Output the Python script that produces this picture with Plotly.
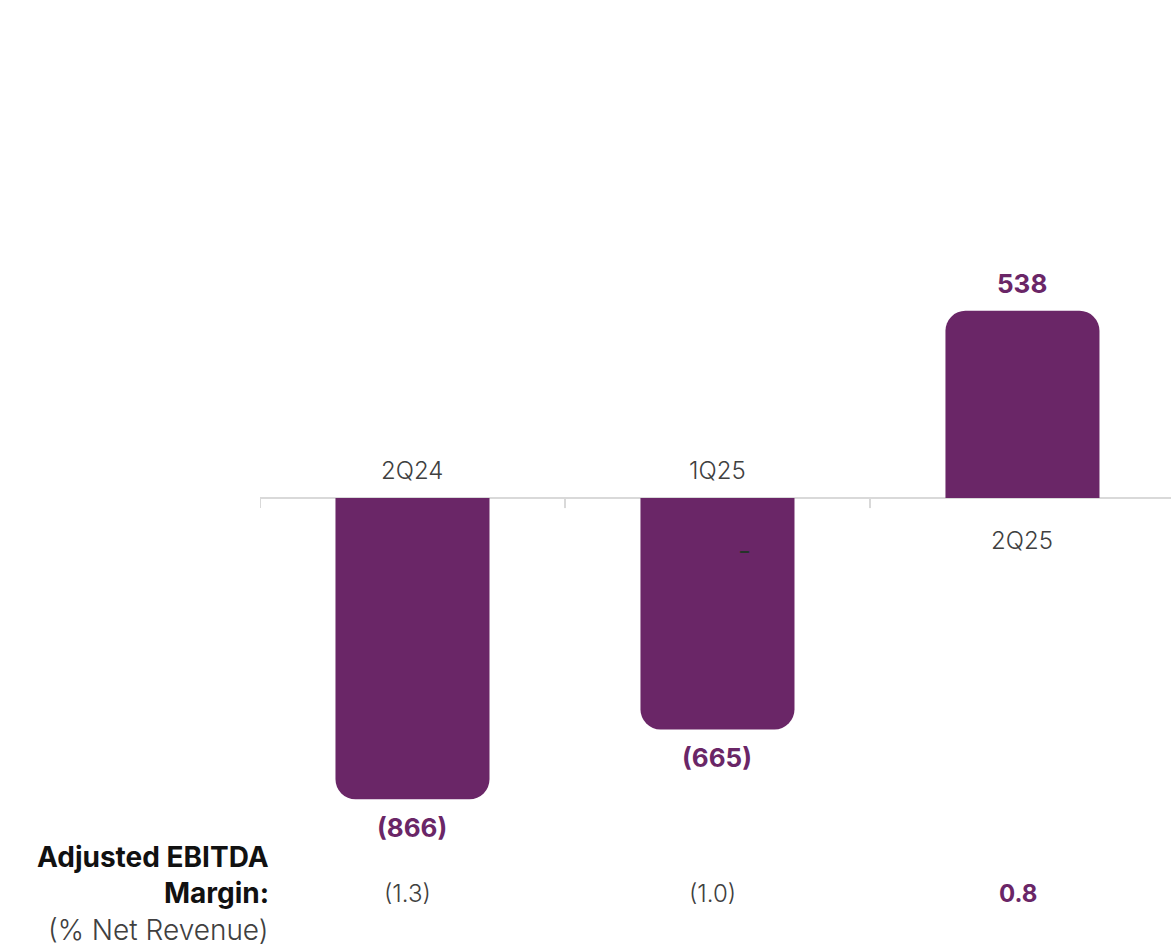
import plotly.graph_objects as go

# Adjusted EBITDA by quarter (R$ millions) and margin over net revenue (%)
quarters = ["2Q24", "1Q25", "2Q25"]
ebitda = [-866, -665, 538]
ebitda_labels = ["(866)", "(665)", "538"]
margin_labels = ["(1.3)", "(1.0)", "0.8"]
margin_bold = [False, False, True]

PURPLE = "#6A2667"
GRAY = "#404040"
AXIS = "#D9D9D9"
FONT = "Inter"

fig = go.Figure()
fig.add_trace(go.Bar(
    x=list(range(len(quarters))),
    y=ebitda,
    width=0.505,
    marker=dict(color=PURPLE, line=dict(width=0)),
    hoverinfo="skip",
))

annotations = []
for i, (q, v, lab, m, mb) in enumerate(zip(quarters, ebitda, ebitda_labels,
                                          margin_labels, margin_bold)):
    sign = 1 if v >= 0 else -1
    # value label beyond the rounded end of the bar
    annotations.append(dict(
        x=i, y=v, xref="x", yref="y", text=f"<b>{lab}</b>", showarrow=False,
        yshift=27 * sign - (1 if sign < 0 else 0),
        font=dict(family=FONT, size=26, color=PURPLE),
    ))
    # quarter label on the opposite side of the baseline
    annotations.append(dict(
        x=i, y=0, xref="x", yref="y", text=q, showarrow=False,
        yshift=-28 * sign - (14 if sign > 0 else 0),
        font=dict(family=FONT, size=24, color=GRAY, weight=300),
    ))
    # margin row
    annotations.append(dict(
        x=i - 0.015, y=893, xref="x", yref="paper", text=f"<b>{m}</b>" if mb else m,
        showarrow=False, yanchor="middle",
        font=dict(family=FONT, size=24, color=PURPLE if mb else GRAY,
                  weight=None if mb else 300),
    ))

# Row title on the left
row_title = [
    ("<b>Adjusted EBITDA</b>", 857, "#111111", None),
    ("<b>Margin:</b>", 893, "#111111", None),
    ("(% Net Revenue)", 930, GRAY, 300),
]
for txt, ypx, col, w in row_title:
    annotations.append(dict(
        x=271, y=ypx, xref="paper", yref="paper", text=txt, showarrow=False,
        xanchor="right", yanchor="middle",
        font=dict(family=FONT, size=28, color=col, weight=w),
    ))

# convert pixel positions of paper-referenced annotations
H, W = 948, 1171
T, B, L, R = 150, 102, 260, 0
for a in annotations:
    if a["yref"] == "paper":
        a["y"] = (H - B - a["y"]) / (H - T - B)
    if a["xref"] == "paper":
        a["x"] = (a["x"] - L) / (W - L - R)

# small dash mark inside the 1Q25 bar
annotations.append(dict(
    x=1.09, y=-150, xref="x", yref="y", text="<b>–</b>", showarrow=False,
    font=dict(family=FONT, size=18, color="#26332A"),
))

shapes = [dict(type="line", xref="paper", yref="y", x0=0, x1=1, y0=0, y1=0,
               line=dict(color=AXIS, width=2), layer="below")]
for b in [-0.5, 0.5, 1.5]:
    shapes.append(dict(type="line", xref="x", yref="y", x0=b, x1=b, y0=0, y1=-29,
                       line=dict(color=AXIS, width=2), layer="below"))

fig.update_layout(
    width=W, height=H,
    margin=dict(l=L, r=R, t=T, b=B),
    paper_bgcolor="white", plot_bgcolor="white",
    barcornerradius=20,
    showlegend=False,
    xaxis=dict(range=[-0.5, 2.487], visible=False, fixedrange=True),
    yaxis=dict(range=[-1000, 1000], visible=False, fixedrange=True),
    annotations=annotations,
    shapes=shapes,
)

fig.write_html("out.html")
